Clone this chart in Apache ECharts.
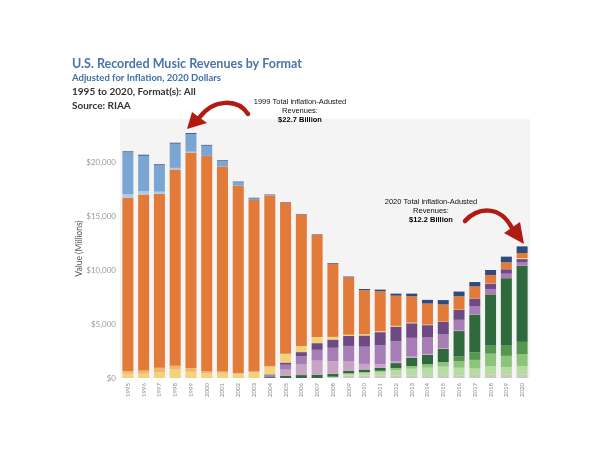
<!DOCTYPE html>
<html><head><meta charset="utf-8">
<script src="https://cdn.jsdelivr.net/npm/echarts@6/dist/echarts.min.js"></script>
<style>html,body{margin:0;padding:0;background:#fff}#c{width:600px;height:460px}</style>
</head><body><div id="c"></div>
<script>
var years = ['1995','1996','1997','1998','1999','2000','2001','2002','2003','2004','2005','2006','2007','2008','2009','2010','2011','2012','2013','2014','2015','2016','2017','2018','2019','2020'];
var yTicks = [0, 5000, 10000, 15000, 20000];
// values in $ millions (2020 dollars), stacked bottom -> top
var synch          = [0,0,0,0,0,0,0,0,0,0,0,0,0,0,230,230,230,220,210,200,200,250,280,300,300,300];
var soundExchange  = [0,0,0,0,0,0,0,0,0,0,0,0,0,120,200,300,340,520,650,750,850,700,600,800,700,800];
var adSupported    = [0,0,0,0,0,0,0,0,0,0,0,0,0,0,0,0,100,190,250,330,420,600,800,1150,1050,1100];
var limitedTier    = [0,0,0,0,0,0,0,0,0,0,0,0,0,0,0,0,0,0,0,0,0,450,700,750,950,1150];
var paidSub        = [0,0,0,0,0,0,0,0,0,80,200,270,290,270,250,250,280,450,760,880,1240,2350,3500,4750,6250,7050];
var ringtones      = [0,0,0,0,0,0,0,0,0,0,580,980,1320,1170,850,530,320,190,110,70,60,40,30,20,15,10];
var dlSingle       = [0,0,0,0,0,0,0,0,0,190,450,780,1000,1240,1440,1590,1750,1830,1740,1520,1300,1000,760,480,400,300];
var dlAlbum        = [0,0,0,0,0,0,0,0,0,60,200,370,620,760,920,1040,1230,1360,1350,1150,1120,910,650,500,420,310];
var musicVideo     = [400,400,520,800,580,420,480,410,560,750,820,560,580,250,120,120,100,70,60,50,30,30,20,20,20,100];
var cdSingle       = [250,300,440,340,340,210,120,30,50,20,0,0,0,0,0,0,0,0,0,0,0,0,0,0,0,0];
var cd             = [16050,16300,16100,18180,19980,19930,19000,17400,15880,15820,14000,12200,9440,6750,5320,4080,3700,2800,2450,1950,1600,1250,1150,780,620,460];
var cassetteSingle = [320,300,210,150,70,20,0,0,0,0,0,0,0,0,0,0,0,0,0,0,0,0,0,0,0,0];
var cassette       = [3900,3300,2450,2250,1650,950,520,300,150,30,15,0,0,0,0,0,0,0,0,0,0,0,0,0,0,0];
var lpEp           = [80,90,80,80,80,70,60,60,60,50,40,40,50,70,70,110,140,190,240,340,400,430,400,460,520,620];

var layers = [
  ['Synchronization', synch, '#c9c9bd'],
  ['SoundExchange Distributions', soundExchange, '#b6dba3'],
  ['Ad-Supported Streaming', adSupported, '#8dc47b'],
  ['Limited Tier Paid Subscription', limitedTier, '#559651'],
  ['Paid Subscription', paidSub, '#30693c'],
  ['Ringtones & Ringbacks', ringtones, '#c9a3c6'],
  ['Download Single', dlSingle, '#a67db4'],
  ['Download Album', dlAlbum, '#6e4a85'],
  ['Music Video (Physical)', musicVideo, '#f2d27a'],
  ['CD Single', cdSingle, '#f2b56b'],
  ['CD', cd, '#e27a39'],
  ['Cassette Single', cassetteSingle, '#aecbe6'],
  ['Cassette', cassette, '#7ba6d4'],
  ['LP/EP', lpEp, '#2f4b7c']
];

var chart = echarts.init(document.getElementById('c'), null, {renderer:'canvas'});
var series = layers.map(function(l){
  return {name:l[0], type:'bar', stack:'total', data:l[1], itemStyle:{color:l[2]}, barWidth:11, emphasis:{disabled:true}};
});
var tf = 'Lato, "Open Sans", sans-serif';
var af = '"Liberation Sans", Arial, sans-serif';
chart.setOption({
  animation:false,
  backgroundColor:'#ffffff',
  grid:{left:120, right:70, top:119, bottom:82, show:true, backgroundColor:'#f4f4f4', borderWidth:0},
  xAxis:{type:'category', data:years, axisLine:{show:false}, axisTick:{show:false},
    axisLabel:{rotate:90, fontSize:6, color:'#8a8a8a', margin:5, fontFamily:tf}},
  yAxis:{type:'value', min:0, max:24000, interval:5000, name:'Value (Millions)', nameLocation:'middle', nameGap:36,
    nameMoveOverlap:false,
    nameTextStyle:{fontSize:8.5, color:'#555', fontFamily:tf},
    splitLine:{show:false}, axisLine:{show:false}, axisTick:{show:false},
    axisLabel:{showMaxLabel:false, fontSize:8, color:'#9a9a9a', margin:4, fontFamily:tf,
      formatter:function(v){ return yTicks.indexOf(v) < 0 ? '' : '$' + v.toLocaleString('en-US'); }}},
  series:series,
  graphic:[
    {type:'text', left:72, top:57, style:{text:'U.S. Recorded Music Revenues by Format', font:'bold 12.5px '+tf, fill:'#4b74a6'}},
    {type:'text', left:72, top:73, style:{text:'Adjusted for Inflation, 2020 Dollars', font:'bold 9.5px '+tf, fill:'#3f6fa4'}},
    {type:'text', left:72, top:87, style:{text:'1995 to 2020, Format(s): All', font:'bold 10px '+tf, fill:'#333'}},
    {type:'text', left:72, top:101, style:{text:'Source: RIAA', font:'bold 10px '+tf, fill:'#333'}},
    {type:'text', x:300, y:102, style:{text:'1999 Total inflation-Adusted', font:'7.5px '+af, fill:'#111', textAlign:'center', textVerticalAlign:'middle'}},
    {type:'text', x:300, y:111, style:{text:'Revenues:', font:'7.5px '+af, fill:'#111', textAlign:'center', textVerticalAlign:'middle'}},
    {type:'text', x:300, y:120, style:{text:'$22.7 Billion', font:'bold 7.5px '+af, fill:'#000', textAlign:'center', textVerticalAlign:'middle'}},
    {type:'text', x:431, y:202, style:{text:'2020 Total inflation-Adusted', font:'7.5px '+af, fill:'#111', textAlign:'center', textVerticalAlign:'middle'}},
    {type:'text', x:431, y:211, style:{text:'Revenues:', font:'7.5px '+af, fill:'#111', textAlign:'center', textVerticalAlign:'middle'}},
    {type:'text', x:431, y:220, style:{text:'$12.2 Billion', font:'bold 7.5px '+af, fill:'#000', textAlign:'center', textVerticalAlign:'middle'}},
    {type:'bezierCurve', z:100, shape:{x1:248, y1:114, cpx1:238, cpy1:99, cpx2:214, cpy2:98, x2:199, y2:118}, style:{stroke:'#b01c12', lineWidth:4.5, fill:null, lineCap:'round'}},
    {type:'polygon', z:100, shape:{points:[[187,129],[192,112],[207,123]]}, style:{fill:'#b01c12'}},
    {type:'bezierCurve', z:100, shape:{x1:465, y1:221, cpx1:478, cpy1:207, cpx2:500, cpy2:205, x2:512, y2:228}, style:{stroke:'#b01c12', lineWidth:4.5, fill:null, lineCap:'round'}},
    {type:'polygon', z:100, shape:{points:[[524,244],[504,233],[520,222]]}, style:{fill:'#b01c12'}}
  ]
});
</script></body></html>
